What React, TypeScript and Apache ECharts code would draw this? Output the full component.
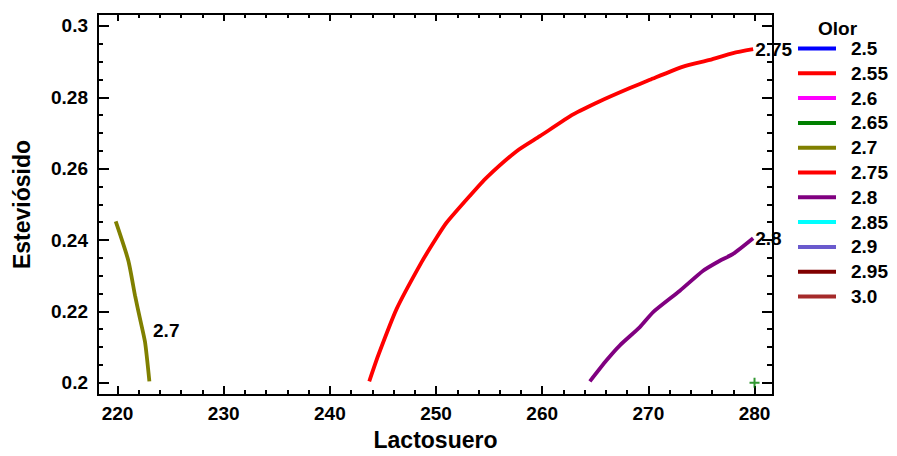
import React, { useEffect, useRef } from 'react';
import * as echarts from 'echarts';

const levels = ['2.5', '2.55', '2.6', '2.65', '2.7', '2.75', '2.8', '2.85', '2.9', '2.95', '3.0'];
const levelColors = ['#0000ff', '#ff0000', '#ff00ff', '#008000', '#808000', '#ff0000', '#800080', '#00ffff', '#6a5acd', '#800000', '#a52a2a'];

const contour27X = [219.83, 221.02, 221.65, 222.12, 222.59, 223.0];
const contour27Y = [0.2452, 0.2342, 0.2244, 0.2179, 0.2114, 0.2004];

const contour275X = [243.71, 244.56, 246.29, 248.64, 250.06, 251.0, 253.19, 254.76, 257.59, 259.78, 262.92, 265.43, 268.26, 270.14, 273.28, 275.79, 277.98, 279.87];
const contour275Y = [0.2004, 0.2077, 0.2207, 0.2338, 0.2407, 0.2449, 0.2524, 0.2575, 0.2649, 0.2691, 0.2752, 0.2789, 0.2826, 0.2849, 0.2886, 0.2905, 0.2924, 0.2935];

const contour28X = [264.49, 266.06, 267.32, 269.2, 270.45, 272.97, 275.16, 276.73, 277.98, 279.87];
const contour28Y = [0.2004, 0.2063, 0.2105, 0.2156, 0.2198, 0.2258, 0.2314, 0.2342, 0.2361, 0.2405];

const optimumPoint = [280, 0.2];

const xMajorTicks = [220, 230, 240, 250, 260, 270, 280];
const xMinorTicks = [222, 224, 226, 228, 232, 234, 236, 238, 242, 244, 246, 248, 252, 254, 256, 258, 262, 264, 266, 268, 272, 274, 276, 278];
const yMajorTicks = [0.2, 0.22, 0.24, 0.26, 0.28, 0.3];
const yMinorTicks = [0.205, 0.21, 0.215, 0.225, 0.23, 0.235, 0.245, 0.25, 0.255, 0.265, 0.27, 0.275, 0.285, 0.29, 0.295];

const X_MIN = 218.16;
const X_MAX = 281.74;
const Y_MIN = 0.19654;
const Y_MAX = 0.30335;

const FONT = 'Arial, "Liberation Sans", sans-serif';

const zip = (xs: number[], ys: number[]) => xs.map((x, i) => [x, ys[i]]);

export default function App() {
  const ref = useRef<HTMLDivElement>(null);

  useEffect(() => {
    if (!ref.current) return;
    const chart = echarts.init(ref.current, null, { renderer: 'svg' });

    const tickStyle = { color: '#000', width: 2 };
    const mkX = (position: string, ticks: number[], len: number, labels: boolean, name?: string) => ({
      type: 'value',
      position,
      min: X_MIN,
      max: X_MAX,
      axisLine: { show: false },
      splitLine: { show: false },
      axisTick: { show: true, inside: true, length: len, lineStyle: tickStyle, customValues: ticks },
      axisLabel: {
        show: labels,
        customValues: ticks,
        formatter: (v: number) => String(v),
        color: '#000',
        fontSize: 19,
        fontWeight: 'bold',
        fontFamily: FONT,
        margin: 9,
      },
      name: name || '',
      nameLocation: 'middle',
      nameGap: 31,
      nameTextStyle: { color: '#000', fontSize: 23, fontWeight: 'bold', fontFamily: FONT },
    });
    const mkY = (position: string, ticks: number[], len: number, labels: boolean, name?: string) => ({
      type: 'value',
      position,
      min: Y_MIN,
      max: Y_MAX,
      axisLine: { show: false },
      splitLine: { show: false },
      axisTick: { show: true, inside: true, length: len, lineStyle: tickStyle, customValues: ticks },
      axisLabel: {
        show: labels,
        customValues: ticks,
        formatter: (v: number) => String(Math.round(v * 100) / 100),
        color: '#000',
        fontSize: 19,
        fontWeight: 'bold',
        fontFamily: FONT,
        margin: 10,
      },
      name: name || '',
      nameLocation: 'middle',
      nameGap: 65,
      nameRotate: 90,
      nameTextStyle: { color: '#000', fontSize: 23, fontWeight: 'bold', fontFamily: FONT },
    });

    const lineSeries = levels.map((lv, i) => {
      let data: any[] = [];
      let extra: any = {};
      if (lv === '2.7') {
        data = zip(contour27X, contour27Y);
        extra = {
          markPoint: {
            symbol: 'circle',
            symbolSize: 0,
            data: [{ coord: [contour27X[3], contour27Y[3]] }],
            label: {
              show: true,
              position: 'right',
              distance: 13,
              offset: [0, 12],
              formatter: () => lv,
              color: '#000',
              fontSize: 19,
              fontWeight: 'bold',
              fontFamily: FONT,
            },
          },
        };
      } else if (lv === '2.75' || lv === '2.8') {
        data = lv === '2.75' ? zip(contour275X, contour275Y) : zip(contour28X, contour28Y);
        extra = {
          endLabel: {
            show: true,
            formatter: () => lv,
            distance: 2,
            color: '#000',
            fontSize: 19,
            fontWeight: 'bold',
            fontFamily: FONT,
          },
        };
      }
      return {
        name: lv,
        type: 'line',
        xAxisIndex: 0,
        yAxisIndex: 0,
        data,
        showSymbol: false,
        smooth: 0.2,
        color: levelColors[i],
        lineStyle: { width: 3.8, color: levelColors[i] },
        ...extra,
      };
    });

    chart.setOption({
      animation: false,
      backgroundColor: '#fff',
      grid: { left: 98, right: 124, top: 14, bottom: 59, show: true, borderColor: '#000', borderWidth: 2, backgroundColor: 'transparent' },
      title: {
        text: 'Olor',
        left: 818,
        top: 19,
        padding: 0,
        textStyle: { color: '#000', fontSize: 19, fontWeight: 'bold', fontFamily: FONT },
      },
      legend: {
        data: levels,
        orient: 'vertical',
        left: 798,
        top: 39,
        padding: 0,
        icon: 'rect',
        itemWidth: 38,
        itemHeight: 4,
        itemGap: 5.8,
        selectedMode: false,
        textStyle: { color: '#000', fontSize: 19, fontWeight: 'bold', fontFamily: FONT, lineHeight: 18, padding: [0, 0, 0, 10] },
      },
      xAxis: [
        mkX('bottom', xMajorTicks, 9, true, 'Lactosuero'),
        mkX('top', xMajorTicks, 7, false),
        mkX('bottom', xMinorTicks, 5, false),
        mkX('top', xMinorTicks, 4, false),
      ],
      yAxis: [
        mkY('left', yMajorTicks, 11, true, 'Esteviósido'),
        mkY('right', yMajorTicks, 11, false),
        mkY('left', yMinorTicks, 5, false),
        mkY('right', yMinorTicks, 6, false),
      ],
      series: [
        ...lineSeries,
        {
          name: 'optimum',
          type: 'scatter',
          xAxisIndex: 0,
          yAxisIndex: 0,
          data: [optimumPoint],
          symbol: 'path://M4,0h2v10h-2zM0,4h10v2h-10z',
          symbolSize: 10,
          itemStyle: { color: '#008000' },
        },
      ],
    });

    return () => chart.dispose();
  }, []);

  return <div ref={ref} style={{ position: 'fixed', left: 0, top: 0, width: 897, height: 456 }} />;
}
